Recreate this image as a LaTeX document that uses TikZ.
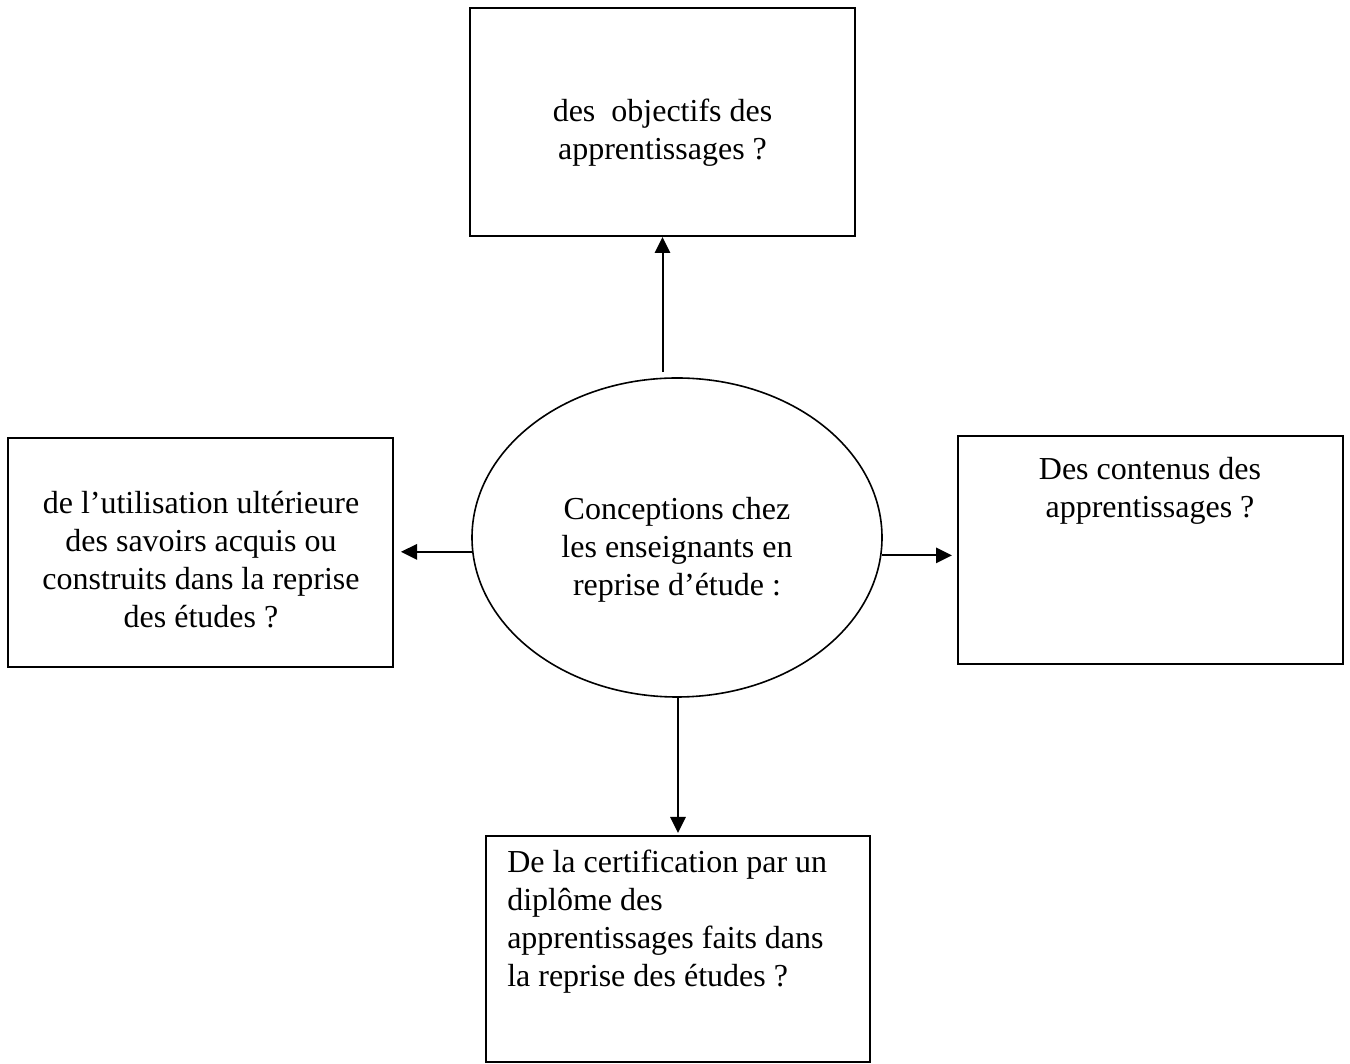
\documentclass[tikz,border=0pt]{standalone}
\usepackage{fontspec}
\setmainfont{Liberation Serif}
\usetikzlibrary{shapes.geometric,arrows.meta}

\begin{document}
\begin{tikzpicture}[x=0.75pt,y=0.75pt,
  box/.style={draw, line width=1.5pt, rectangle, inner sep=0pt,
              minimum width=288.75pt, minimum height=171pt},
  hub/.style={draw, line width=1.2pt, ellipse, inner sep=0pt,
              minimum width=307.5pt, minimum height=239.25pt},
  txt/.style={inner sep=0pt, font=\fontsize{24}{28.5}\selectfont},
  arr/.style={line width=1.5pt, -{Triangle[length=12pt,width=11.5pt]}}]

\useasboundingbox (0,0) rectangle (1350,1064);

% central ellipse
\node[hub] (ell) at (677,526.5) {};
\node[txt, align=center] (elltxt) at (677,514)
  {Conceptions chez\\les enseignants en\\reprise d’étude :};

% surrounding boxes
\node[box] (topb) at (662.5,942) {};
\node[txt, align=center] (toptxt) at (662.5,931.5)
  {des\ \ objectifs des\\apprentissages ?};

\node[box, minimum height=171.75pt] (leftb) at (200.5,511.5) {};
\node[txt, align=center] (lefttxt) at (201,504)
  {de l’utilisation ultérieure\\des savoirs acquis ou\\construits dans la reprise\\des études ?};

\node[box] (rightb) at (1150.5,514) {};
\node[txt, align=center] (righttxt) at (1150,573.5)
  {Des contenus des\\apprentissages ?};

\node[box, minimum width=288pt, minimum height=169.5pt] (botb) at (678,115) {};
\node[txt, align=left, anchor=west] (bottxt) at (507,142)
  {De la certification par un\\diplôme des\\apprentissages faits dans\\la reprise des études ?};

% connectors
\draw[arr, shorten <=3.75pt, xshift=1.1pt] (topb.south |- ell.north) -- (topb.south);
\draw[arr, shorten >=5.25pt] (ell.184.6) -- (ell.184.6 -| leftb.east);
\draw[arr, shorten >=3.75pt] (ell.355.4) -- (ell.355.4 -| rightb.west);
\draw[arr, shorten >=1.5pt] (botb.north |- ell.south) -- (botb.north);

\end{tikzpicture}
\end{document}
